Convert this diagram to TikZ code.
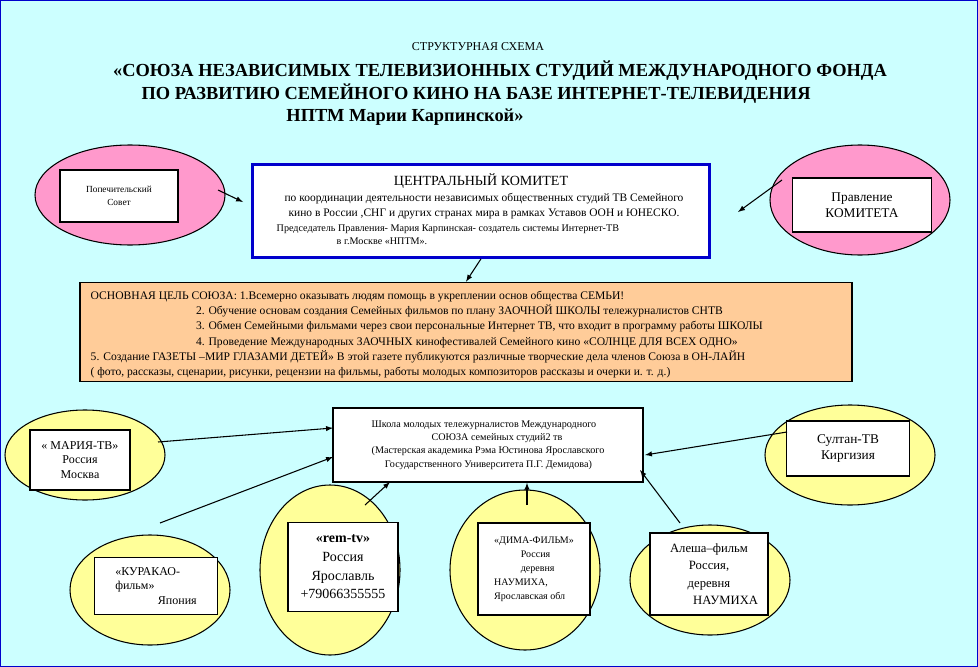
\documentclass[tikz,border=0pt]{standalone}
\usepackage{fontspec}
\setmainfont{Liberation Serif}
\usetikzlibrary{shapes.geometric}
\definecolor{bgcyan}{RGB}{204,255,255}
\definecolor{pinkish}{RGB}{255,153,204}
\definecolor{yellowish}{RGB}{255,255,153}
\definecolor{peach}{RGB}{255,204,153}
\definecolor{frameblue}{RGB}{0,0,204}
\tikzset{
	oval/.style={ellipse, draw=black, thick, inner sep=0pt},
	card/.style={draw=black, very thick, fill=white, inner sep=0pt},
	link/.style={thick, -latex},
	txt/.style={font=\fontsize{8}{10}\selectfont, align=center}
}
\begin{document}
\begin{tikzpicture}[x=0.75pt, y=-0.75pt]

	% Background
	\useasboundingbox (0, 0) rectangle (978, 667);
	\filldraw[fill=bgcyan, draw=frameblue, thick] (0, 0) rectangle (978, 667);

	% Title
	\node[font=\fontsize{9}{10}\selectfont] at (478, 47) {СТРУКТУРНАЯ СХЕМА};
	\node[font=\bfseries\fontsize{13.8}{16}\selectfont] at (500, 71) {«СОЮЗА НЕЗАВИСИМЫХ ТЕЛЕВИЗИОННЫХ  СТУДИЙ МЕЖДУНАРОДНОГО ФОНДА};
	\node[font=\bfseries\fontsize{13.8}{16}\selectfont] at (476, 94) {ПО РАЗВИТИЮ  СЕМЕЙНОГО КИНО НА БАЗЕ ИНТЕРНЕТ-ТЕЛЕВИДЕНИЯ};
	\node[font=\bfseries\fontsize{13.8}{16}\selectfont] at (405, 117) {НПТМ  Марии Карпинской»};

	% Ovals
	\node[oval, fill=pinkish, minimum width=142.5, minimum height=75] (opekaOval) at (130, 195) {};
	\node[oval, fill=pinkish, minimum width=135, minimum height=82.5] (pravOval) at (860, 200) {};
	\node[oval, fill=yellowish, minimum width=120, minimum height=67.5] (mariaOval) at (85, 455) {};
	\node[oval, fill=yellowish, minimum width=127.5, minimum height=75] (sultanOval) at (850, 455) {};
	\node[oval, fill=yellowish, minimum width=120, minimum height=82.5] (kuraOval) at (150, 590) {};
	\node[oval, fill=yellowish, minimum width=105, minimum height=127.5] (remOval) at (330, 570) {};
	\node[oval, fill=yellowish, minimum width=112.5, minimum height=120] (dimaOval) at (525, 570) {};
	\node[oval, fill=yellowish, minimum width=120, minimum height=82.5] (aleshaOval) at (710, 580) {};

	% Boxes
	\node[card, minimum width=88.5, minimum height=39, txt, font=\fontsize{7}{10}\selectfont] (opeka) at (119, 196) {Попечительский\\Совет};
	\node[card, minimum width=104.25, minimum height=40.5, txt, font=\fontsize{10}{12}\selectfont] (prav) at (862, 205) {Правление\\КОМИТЕТА};
	\node[draw=frameblue, line width=2pt, fill=white, minimum width=342.75, minimum height=69.75, inner sep=0pt] (centr) at (481, 211) {};
	\node[txt, font=\fontsize{10.5}{12}\selectfont] at (481, 181) {ЦЕНТРАЛЬНЫЙ КОМИТЕТ};
	\node[txt, font=\fontsize{8.6}{11}\selectfont] at (484, 206) {по координации  деятельности независимых общественных студий  ТВ Семейного\\кино в России ,СНГ и других странах мира в рамках Уставов ООН и ЮНЕСКО.};
	\node[font=\fontsize{7.6}{10}\selectfont, align=left, anchor=north west] at (272, 220) {Председатель Правления- Мария Карпинская- создатель системы Интернет-ТВ\\\hspace*{45pt}в г.Москве «НПТМ».};

	\node[draw=black, very thick, fill=peach, minimum width=579, minimum height=74.25, inner sep=0pt] (goal) at (466, 332) {};
	\node[font=\fontsize{8.7}{11.5}\selectfont, align=left, anchor=north west] at (86, 286) {%
		ОСНОВНАЯ ЦЕЛЬ СОЮЗА: 1.Всемерно оказывать людям помощь в укреплении основ общества СЕМЬИ!\\
		\hspace*{79pt}2. Обучение основам создания Семейных фильмов  по плану ЗАОЧНОЙ  ШКОЛЫ  тележурналистов СНТВ\\
		\hspace*{79pt}3. Обмен Семейными фильмами через свои персональные Интернет ТВ, что входит в программу работы ШКОЛЫ\\
		\hspace*{79pt}4.  Проведение Международных ЗАОЧНЫХ кинофестивалей Семейного  кино «СОЛНЦЕ ДЛЯ ВСЕХ ОДНО»\\
		5. Создание   ГАЗЕТЫ –МИР ГЛАЗАМИ ДЕТЕЙ» В этой газете публикуются различные творческие дела членов Союза в ОН-ЛАЙН\\
		( фото, рассказы, сценарии, рисунки, рецензии на фильмы, работы молодых композиторов рассказы и очерки и. т. д.)};

	\node[card, minimum width=232.5, minimum height=55.5, font=\fontsize{7.6}{10}\selectfont, align=left] (school) at (488, 445) {%
		Школа молодых тележурналистов Международного\\
		\hspace*{45pt}СОЮЗА  семейных студий2 тв\\
		(Мастерская академика Рэма Юстинова Ярославского\\
		\hspace*{10pt}Государственного Университета П.Г. Демидова)};

	\node[card, minimum width=75, minimum height=45, txt, font=\fontsize{9}{11}\selectfont] (maria) at (80, 460) {« МАРИЯ-ТВ»\\Россия\\Москва};
	\node[card, minimum width=92.25, minimum height=41.25, txt, font=\fontsize{10}{12}\selectfont, anchor=north] (sultan) at (848, 420) {Султан-ТВ\\Киргизия};
	\node[card, minimum width=92.25, minimum height=42.75, txt, font=\fontsize{9}{11}\selectfont, align=left] (kura) at (156, 586) {«КУРАКАО-\\фильм»\\\hspace*{32pt}Япония};
	\node[card, minimum width=82.5, minimum height=66.75, txt, font=\fontsize{10.5}{14}\selectfont] (rem) at (343, 567) {\textbf{«rem-tv»}\\Россия\\Ярославль\\+79066355555};
	\node[card, minimum width=84, minimum height=69, font=\fontsize{7.5}{10.5}\selectfont, align=left] (dima) at (534, 569) {«ДИМА-ФИЛЬМ»\\\hspace*{20pt}Россия\\\hspace*{20pt}деревня\\НАУМИХА,\\Ярославская обл};
	\node[card, minimum width=88.5, minimum height=61.5, txt, font=\fontsize{9.5}{13}\selectfont] (alesha) at (709, 574) {Алеша–фильм\\Россия,\\деревня\\\hspace*{25pt}НАУМИХА};

	% Connectors
	\coordinate (opekaEnd) at (218, 190);
	\coordinate (centrL) at (243, 202);
	\coordinate (pravEnd) at (782, 180);
	\coordinate (centrR) at (738, 212);
	\coordinate (mariaEnd) at (158, 442);
	\coordinate (schoolL1) at (333, 428);
	\coordinate (sultanEnd) at (787, 432);
	\coordinate (schoolR) at (645, 455);
	\coordinate (kuraStart) at (160, 523);
	\coordinate (schoolL2) at (333, 457);
	\coordinate (remStart) at (365, 505);
	\coordinate (schoolB1) at (390, 482);
	\coordinate (dimaStart) at (527, 505);
	\coordinate (aleshaStart) at (680, 523);
	\coordinate (schoolB2) at (640, 470);
	\draw[link] (opekaEnd) -- (centrL);
	\draw[link] (pravEnd) -- (centrR);
	\draw[link] (centr.south) -- (goal.north);
	\draw[link] (mariaEnd) -- (schoolL1);
	\draw[link] (sultanEnd) -- (schoolR);
	\draw[link] (kuraStart) -- (schoolL2);
	\draw[link] (remStart) -- (schoolB1);
	\draw[link] (dimaStart) -- (dimaStart |- school.south);
	\draw[link] (aleshaStart) -- (schoolB2);

\end{tikzpicture}
\end{document}
